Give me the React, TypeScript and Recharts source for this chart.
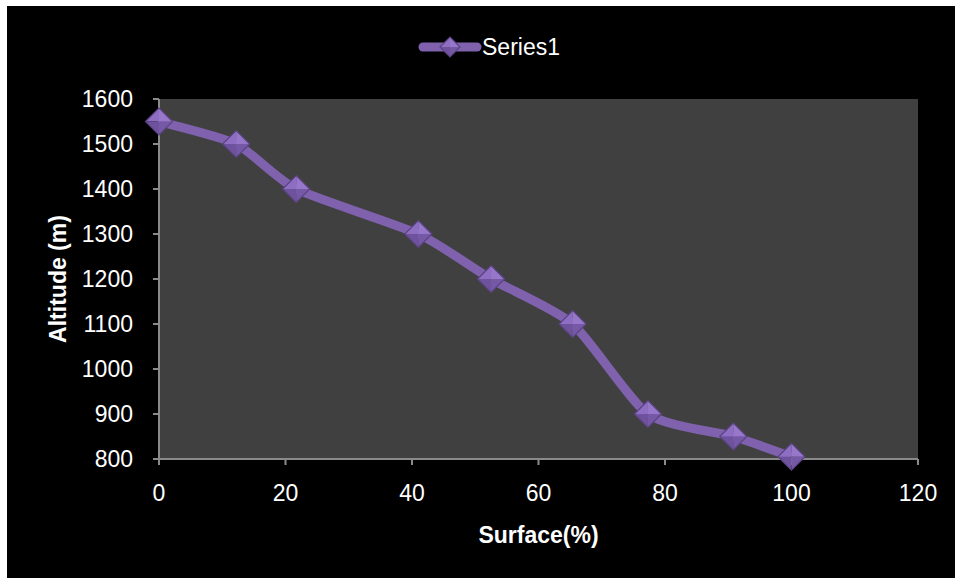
import { CartesianGrid, Label, Legend, Line, LineChart, XAxis, YAxis } from 'recharts';

const surface = [0, 12.2, 21.7, 41, 52.5, 65.4, 77.3, 90.8, 100];
const altitude = [1550, 1500, 1400, 1300, 1200, 1100, 900, 850, 805];
const xTicks = [0, 20, 40, 60, 80, 100, 120];
const yTicks = [800, 900, 1000, 1100, 1200, 1300, 1400, 1500, 1600];

const data = surface.map((s, i) => ({ surface: s, altitude: altitude[i] }));

const FONT = '"Liberation Sans", Arial, sans-serif';
const PURPLE = '#7f61ad';

// Excel-like "smoothed line": gentle cardinal-style bezier through the points, as a d3 curve factory
const SMOOTH = 1 / 9;
const smoothCurve: any = (context: any) => {
  let pts: number[][] = [];
  return {
    areaStart() {},
    areaEnd() {},
    lineStart() {
      pts = [];
    },
    point(x: number, y: number) {
      pts.push([+x, +y]);
    },
    lineEnd() {
      const n = pts.length;
      if (!n) return;
      context.moveTo(pts[0][0], pts[0][1]);
      for (let i = 0; i < n - 1; i++) {
        const p0 = pts[Math.max(i - 1, 0)];
        const p1 = pts[i];
        const p2 = pts[i + 1];
        const p3 = pts[Math.min(i + 2, n - 1)];
        context.bezierCurveTo(
          p1[0] + (p2[0] - p0[0]) * SMOOTH,
          p1[1] + (p2[1] - p0[1]) * SMOOTH,
          p2[0] - (p3[0] - p1[0]) * SMOOTH,
          p2[1] - (p3[1] - p1[1]) * SMOOTH,
          p2[0],
          p2[1]
        );
      }
    },
  };
};

// diamond marker with shaded facets, like the Excel one
const Diamond = ({ cx, cy, r }: { cx: number; cy: number; r: number }) => (
  <g>
    <polygon points={`${cx - r},${cy} ${cx},${cy - r} ${cx},${cy}`} fill="#8d6ec2" />
    <polygon points={`${cx},${cy - r} ${cx + r},${cy} ${cx},${cy}`} fill="#9677c9" />
    <polygon points={`${cx - r},${cy} ${cx},${cy + r} ${cx},${cy}`} fill="#6f529e" />
    <polygon points={`${cx},${cy + r} ${cx + r},${cy} ${cx},${cy}`} fill="#7659a6" />
    <polygon
      points={`${cx - r},${cy} ${cx},${cy - r} ${cx + r},${cy} ${cx},${cy + r}`}
      fill="none"
      stroke="#5b4383"
      strokeWidth={1.2}
    />
  </g>
);

const renderDot = (props: any) => {
  const { cx, cy, index } = props;
  return <Diamond key={`d-${index}`} cx={cx} cy={cy} r={13.5} />;
};

const LegendContent = () => (
  <div style={{ display: 'flex', justifyContent: 'center', alignItems: 'center', height: 30, paddingLeft: 16 }}>
    <svg width={64} height={30}>
      <line x1={5} y1={15} x2={59} y2={15} stroke={PURPLE} strokeWidth={9} strokeLinecap="round" />
      <Diamond cx={32} cy={15} r={10} />
    </svg>
    <span style={{ color: '#fff', fontFamily: FONT, fontSize: 23 }}>Series1</span>
  </div>
);

const App = () => {
  return (
    <div style={{ position: 'absolute', left: 7, top: 6, width: 948, height: 572, background: '#000' }}>
      <LineChart
        width={948}
        height={572}
        data={data}
        margin={{ top: 63, right: 37, bottom: 19, left: 20 }}
      >
        <CartesianGrid horizontal={false} vertical={false} fill="#404040" />
        <Legend
          verticalAlign="top"
          align="center"
          content={<LegendContent />}
          wrapperStyle={{ top: 26, left: 0, width: 948, height: 30 }}
        />
        <XAxis
          type="number"
          dataKey="surface"
          domain={[0, 120]}
          ticks={xTicks}
          height={100}
          stroke="#8a8a8a"
          strokeWidth={2}
          tickSize={6}
          tickMargin={20}
          tick={{ fill: '#fff', fontSize: 23, fontFamily: FONT }}
        >
          <Label
            content={({ viewBox }: any) => (
              <text
                x={viewBox.x + viewBox.width / 2}
                y={viewBox.y + 76}
                fill="#fff"
                fontSize={23}
                fontWeight="bold"
                fontFamily={FONT}
                textAnchor="middle"
                dominantBaseline="central"
              >
                Surface(%)
              </text>
            )}
          />
        </XAxis>
        <YAxis
          type="number"
          domain={[800, 1600]}
          ticks={yTicks}
          width={132}
          stroke="#8a8a8a"
          strokeWidth={2}
          tickSize={6}
          tickMargin={20}
          tick={{ fill: '#fff', fontSize: 23, fontFamily: FONT }}
        >
          <Label
            content={({ viewBox }: any) => {
              const cx = viewBox.x + 31;
              const cy = viewBox.y + viewBox.height / 2;
              return (
                <text
                  x={cx}
                  y={cy}
                  transform={`rotate(-90, ${cx}, ${cy})`}
                  fill="#fff"
                  fontSize={23}
                  fontWeight="bold"
                  fontFamily={FONT}
                  textAnchor="middle"
                  dominantBaseline="central"
                >
                  Altitude (m)
                </text>
              );
            }}
          />
        </YAxis>
        <Line
          type={smoothCurve}
          dataKey="altitude"
          stroke={PURPLE}
          strokeWidth={9}
          dot={renderDot}
          activeDot={false}
          isAnimationActive={false}
        />
      </LineChart>
    </div>
  );
};

export default App;
